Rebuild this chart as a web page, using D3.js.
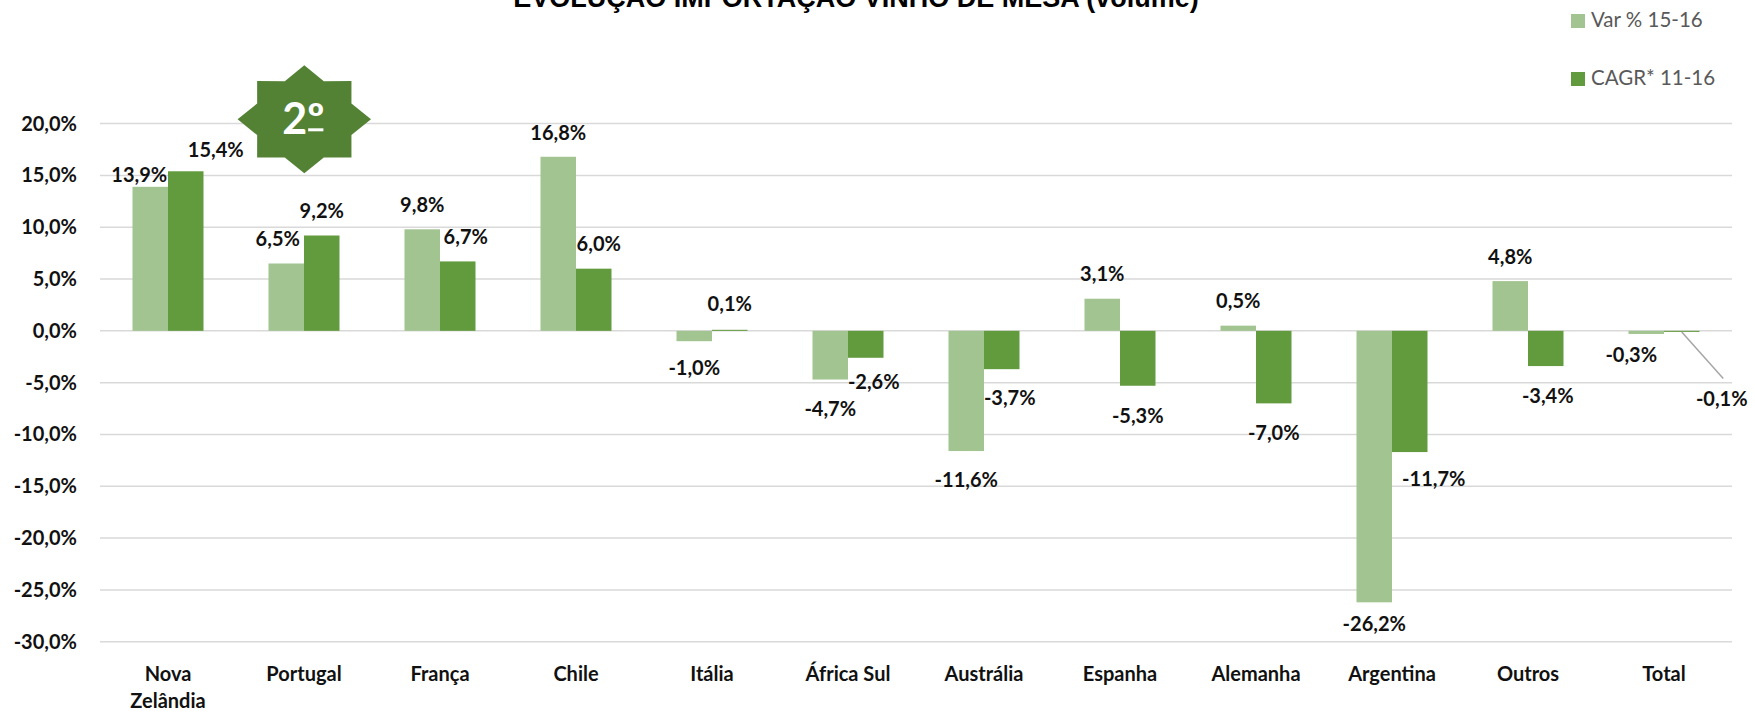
<!DOCTYPE html>
<html>
<head>
<meta charset="utf-8">
<script src="https://cdn.jsdelivr.net/npm/d3@7"></script>
<style>
  body { margin: 0; background: #fff; }
  svg { display: block; }
</style>
</head>
<body>
<div id="chart"></div>
<script>
// data (values in %)
var categories = ["Nova Zelândia", "Portugal", "França", "Chile", "Itália", "África Sul",
  "Austrália", "Espanha", "Alemanha", "Argentina", "Outros", "Total"];
var seriesNames = ["Var % 15-16", "CAGR* 11-16"];
var varValues = [13.9, 6.5, 9.8, 16.8, -1.0, -4.7, -11.6, 3.1, 0.5, -26.2, 4.8, -0.3];
var cagrValues = [15.4, 9.2, 6.7, 6.0, 0.1, -2.6, -3.7, -5.3, -7.0, -11.7, -3.4, -0.1];
var yTicks = [-30, -25, -20, -15, -10, -5, 0, 5, 10, 15, 20];
var titleText = "EVOLUÇÃO IMPORTAÇÃO VINHO DE MESA (volume)";
var badgeText = "2º";

// layout
var svgWidth = 1755;
var svgHeight = 712;
var plot = { left: 100, right: 1732, top: 123.6, bottom: 641.7 };
var colors = ["#a2c491", "#629b3e"];
var badgeColor = "#548235";
var fontFamily = "Lato, 'Open Sans', sans-serif";

// manual label nudges (dx, dy) as in the original sheet
var labelNudge = [
  [[-11, 13], [-8.5, 0], [0, 1], [0, 1], [0, -2], [0, 0], [0, 0], [0, 0], [0, 0.5], [0, -8], [0, 1], [-15, -8]],
  [[30, 4], [0, 0], [8, 0], [5, 0], [0, -1], [8, -5], [8, 0], [0, 1], [0, 0.5], [24, -2], [2, 1], [40, 37.5]]
];

var svg = d3.select("#chart")
  .append("svg")
  .attr("width", svgWidth)
  .attr("height", svgHeight);

var x = d3.scaleBand()
  .domain(categories)
  .range([plot.left, plot.right]);

var xSub = d3.scaleBand()
  .domain(seriesNames)
  .range([32.5, x.bandwidth() - 32.5]);

var y = d3.scaleLinear()
  .domain([-30, 20])
  .range([plot.bottom, plot.top]);

var pt = d3.formatLocale({ decimal: ",", thousands: ".", grouping: [3], currency: ["", "€"], minus: "-" });
var fmt = function(v) { return pt.format(".1f")(v) + "%"; };

// gridlines
svg.append("g")
  .selectAll("line")
  .data(yTicks)
  .enter()
  .append("line")
  .attr("x1", plot.left)
  .attr("x2", plot.right)
  .attr("y1", d => y(d))
  .attr("y2", d => y(d))
  .attr("stroke", "#d9d9d9")
  .attr("stroke-width", 1.5);

// y axis labels
var yAxis = svg.append("g")
  .attr("transform", `translate(${plot.left}, 0)`)
  .call(d3.axisLeft(y).tickValues(yTicks).tickFormat(fmt).tickSize(0).tickPadding(23));
yAxis.select(".domain").remove();
yAxis.selectAll("text")
  .attr("font-family", fontFamily)
  .attr("font-weight", "bold")
  .attr("font-size", "20px")
  .attr("fill", "#111");

// bars
var rows = categories.map(function(c, i) {
  return { cat: c, i: i, values: [varValues[i], cagrValues[i]] };
});

var groups = svg.append("g")
  .selectAll("g")
  .data(rows)
  .enter()
  .append("g")
  .attr("transform", d => `translate(${x(d.cat)}, 0)`);

groups.selectAll("rect")
  .data(d => d.values.map((v, s) => ({ v: v, s: s, i: d.i })))
  .enter()
  .append("rect")
  .attr("x", d => xSub(seriesNames[d.s]))
  .attr("width", xSub.bandwidth())
  .attr("y", d => y(Math.max(0, d.v)))
  .attr("height", d => Math.abs(y(d.v) - y(0)))
  .attr("fill", d => colors[d.s]);

// data labels
var labels = [];
rows.forEach(function(r) {
  r.values.forEach(function(v, s) {
    var cx = x(r.cat) + xSub(seriesNames[s]) + xSub.bandwidth() / 2;
    var ey = y(v);
    var nudge = labelNudge[s][r.i];
    labels.push({
      v: v, s: s, i: r.i,
      barX: cx, barY: ey,
      lx: cx + nudge[0],
      ly: ey + (v >= 0 ? -25 : 29) + nudge[1]
    });
  });
});

// leader line for the tiny Total CAGR bar
var lead = labels.filter(d => d.s === 1 && d.i === categories.length - 1)[0];
svg.append("line")
  .attr("x1", lead.barX)
  .attr("y1", lead.barY)
  .attr("x2", lead.lx + 1.5)
  .attr("y2", lead.ly - 20)
  .attr("stroke", "#a6a6a6")
  .attr("stroke-width", 1.5);

svg.append("g")
  .selectAll("text")
  .data(labels)
  .enter()
  .append("text")
  .attr("x", d => d.lx)
  .attr("y", d => d.ly)
  .attr("dy", "0.36em")
  .attr("text-anchor", "middle")
  .attr("font-family", fontFamily)
  .attr("font-weight", "bold")
  .attr("font-size", "20px")
  .attr("fill", "#111")
  .text(d => fmt(d.v));

// category labels, wrapped when too wide
var catText = svg.append("g")
  .selectAll("text")
  .data(categories)
  .enter()
  .append("text")
  .attr("x", d => x(d) + x.bandwidth() / 2)
  .attr("y", 681)
  .attr("text-anchor", "middle")
  .attr("font-family", fontFamily)
  .attr("font-weight", "bold")
  .attr("font-size", "20px")
  .attr("fill", "#111")
  .text(d => d);

catText.each(function(d) {
  var t = d3.select(this);
  if (this.getComputedTextLength() > 115) {
    var words = d.split(" ");
    t.text(null);
    words.forEach(function(w, k) {
      t.append("tspan")
        .attr("x", x(d) + x.bandwidth() / 2)
        .attr("dy", k === 0 ? 0 : 27)
        .text(w);
    });
  }
});

// title (cut by the top edge, as in the source)
svg.append("text")
  .attr("x", 856)
  .attr("y", 7)
  .attr("text-anchor", "middle")
  .attr("font-family", "'Liberation Sans', Arial, sans-serif")
  .attr("font-weight", "bold")
  .attr("font-size", "27px")
  .attr("fill", "#000")
  .text(titleText);

// legend
var legend = svg.append("g")
  .selectAll("g")
  .data(seriesNames)
  .enter()
  .append("g")
  .attr("transform", (d, i) => `translate(1571, ${14 + i * 58})`);

legend.append("rect")
  .attr("width", 14)
  .attr("height", 14)
  .attr("fill", (d, i) => colors[i]);

legend.append("text")
  .attr("x", 20)
  .attr("y", 13)
  .attr("font-family", fontFamily)
  .attr("font-size", "20.5px")
  .attr("fill", "#595959")
  .text(d => d);

// "2º" badge (8-point star)
var badge = { cx: 304.3, cy: 119.3, rx: 66.7, ry: 54 };
var starPts = d3.range(16).map(function(k) {
  var a = k * Math.PI / 8 - Math.PI / 2;
  var f = k % 2 === 0 ? 1 : 0.765;
  return [badge.cx + Math.cos(a) * badge.rx * f, badge.cy + Math.sin(a) * badge.ry * f];
});
svg.append("path")
  .attr("d", d3.line()(starPts) + "Z")
  .attr("fill", badgeColor);

var badgeLabel = svg.append("text")
  .attr("x", badge.cx - 1)
  .attr("y", badge.cy + 15)
  .attr("text-anchor", "middle")
  .attr("font-family", fontFamily)
  .attr("font-weight", "bold")
  .attr("font-size", "43px")
  .attr("fill", "#fff")
  .text(badgeText);

// underline of the ordinal sign, as drawn by the original font
var node = badgeLabel.node();
var o0 = node.getStartPositionOfChar(1).x;
var o1 = node.getEndPositionOfChar(1).x;
svg.append("rect")
  .attr("x", o0 + 1)
  .attr("y", badge.cy + 9)
  .attr("width", o1 - o0 - 2)
  .attr("height", 3)
  .attr("fill", "#fff");
</script>
</body>
</html>
